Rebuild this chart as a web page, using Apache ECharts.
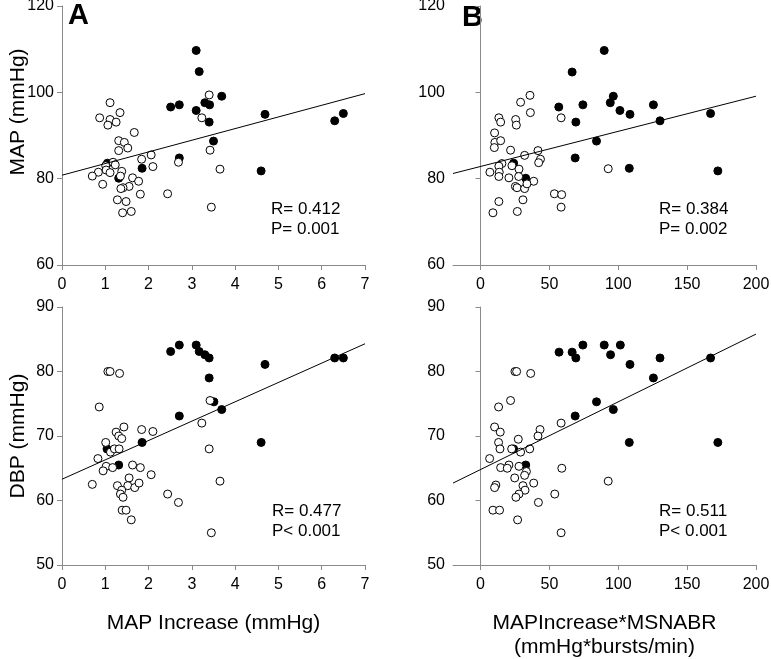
<!DOCTYPE html>
<html lang="en">
<head>
    <meta charset="UTF-8">
    <title>MAP / DBP correlations</title>
    <script src="https://cdn.jsdelivr.net/npm/echarts@6.0.0/dist/echarts.min.js"></script>
    <style>
        html, body { margin: 0; padding: 0; background: #fff; }
        #chartmain { width: 771px; height: 659px; }
    </style>
</head>
<body>
<div id="chartmain"></div>
<script>
    // ---- data ----
    // panel A : MAP vs MAP increase
    var filledA = [[3.10,109.7],[3.17,104.8],[3.69,99.1],[3.30,97.6],[3.41,97.1],[2.71,97.1],[2.51,96.6],
        [3.10,95.8],[4.69,94.9],[6.50,95.1],[6.30,93.4],[3.40,93.1],[3.50,88.7],[2.71,84.8],[1.85,82.4],
        [4.60,81.8],[1.31,80.1],[1.05,83.6]];
    var openA = [[1.11,97.6],[0.87,94.1],[1.34,95.3],[1.11,93.7],[1.25,93.1],[1.06,92.4],[1.67,90.7],
        [1.31,88.8],[1.44,88.4],[1.52,87.1],[1.31,86.5],[2.06,85.5],[1.84,84.5],[1.18,83.8],[1.01,83.0],
        [1.23,83.2],[2.10,82.8],[1.02,82.0],[1.11,81.4],[0.84,81.5],[1.38,81.7],[0.70,80.6],[1.35,80.6],
        [1.63,80.2],[1.77,79.4],[0.94,78.7],[1.55,78.2],[1.41,77.9],[1.36,77.7],[1.81,76.4],[2.44,76.5],
        [1.28,75.1],[1.48,74.7],[1.40,72.1],[1.60,72.4],[2.69,83.8],[3.42,86.6],[3.65,82.2],[3.23,94.1],
        [3.40,99.4],[3.45,73.4]];
    var fitA = [[0,80.8],[7,99.7]];

    // panel B : MAP vs MAPIncrease*MSNABR
    var filledB = [[89.8,109.7],[66.5,104.7],[96.4,99.1],[94.2,97.6],[74.3,97.1],[56.8,96.6],[125.5,97.1],
        [101.2,95.8],[108.5,94.9],[167.0,95.1],[69.2,93.1],[130.3,93.4],[84.2,88.7],[68.7,84.8],[108.0,82.4],
        [172.3,81.8],[32.8,80.1],[24.0,83.6]];
    var openB = [[29.1,97.7],[35.9,99.3],[36.2,95.3],[13.3,94.1],[14.6,93.1],[25.5,93.7],[26.0,92.4],
        [10.2,90.6],[10.4,88.4],[14.6,88.8],[10.0,87.2],[21.8,86.6],[32.0,85.4],[41.7,86.5],[43.5,84.5],
        [42.2,83.7],[15.5,83.5],[13.3,82.9],[22.8,83.0],[27.9,82.2],[6.8,81.5],[13.6,81.5],[27.7,80.5],
        [20.6,80.2],[13.3,80.5],[38.6,79.4],[25.3,78.2],[26.5,77.9],[32.0,77.7],[33.7,78.8],[30.8,75.1],
        [13.3,74.7],[9.0,72.1],[26.7,72.4],[53.6,76.5],[58.9,76.3],[58.5,73.4],[58.5,94.1],[92.7,82.3]];
    var fitB = [[-20,81.2],[200,99.1]];

    // panel C : DBP vs MAP increase
    var filledC = [[2.71,84.1],[3.10,84.1],[2.51,83.1],[3.17,83.1],[3.30,82.6],[3.40,82.1],[4.69,81.1],
        [6.30,82.1],[6.50,82.1],[3.40,79.0],[3.51,75.3],[3.69,74.1],[2.71,73.1],[1.85,69.0],[4.60,69.0],
        [1.04,68.0],[1.31,65.5]];
    var openC = [[1.06,80.0],[1.11,80.0],[1.33,79.7],[0.86,74.5],[1.43,71.4],[1.25,70.6],[1.31,70.0],
        [1.38,69.6],[1.84,71.0],[2.10,70.7],[1.01,69.0],[1.12,67.5],[1.21,68.0],[1.32,68.0],[0.83,66.5],
        [1.02,65.3],[1.17,65.1],[0.95,64.6],[1.63,65.5],[1.81,65.1],[2.06,64.0],[1.55,63.5],[0.70,62.5],
        [1.28,62.3],[1.52,62.3],[1.68,62.0],[1.78,62.7],[1.38,61.6],[1.35,61.0],[1.41,60.5],[2.44,61.0],
        [1.39,58.5],[1.48,58.5],[1.60,57.0],[2.69,59.7],[3.42,75.5],[3.23,72.0],[3.40,68.0],[3.65,63.0],
        [3.45,55.0]];
    var fitC = [[0,63.3],[7,84.3]];

    // panel D : DBP vs MAPIncrease*MSNABR
    var filledD = [[57.0,83.0],[66.5,83.0],[74.3,84.1],[69.2,82.1],[89.8,84.1],[101.5,84.1],[94.4,82.6],
        [108.5,81.1],[130.3,82.1],[167.0,82.1],[125.5,79.0],[84.2,75.3],[96.4,74.1],[68.7,73.1],[108.0,69.0],
        [172.3,69.0],[24.0,68.0],[32.8,65.5]];
    var openD = [[25.0,80.0],[26.2,80.0],[36.4,79.7],[21.8,75.5],[13.1,74.5],[10.2,71.4],[14.3,70.6],
        [13.1,69.0],[43.2,71.0],[41.7,70.0],[27.4,69.5],[14.1,68.0],[22.6,68.0],[35.7,68.0],[29.1,67.5],
        [6.6,66.5],[14.6,65.1],[20.6,65.5],[19.4,65.0],[27.9,65.3],[33.3,64.5],[32.0,63.9],[24.8,63.5],
        [11.1,62.4],[10.2,62.0],[30.8,62.3],[38.6,62.7],[32.3,61.6],[27.9,61.0],[25.7,60.5],[53.9,61.0],
        [42.0,59.7],[9.0,58.5],[13.8,58.5],[26.9,57.0],[58.5,72.0],[59.0,65.0],[92.7,63.0],[58.5,55.0]];
    var fitD = [[-20,62.7],[200,85.8]];

    var xTicksProduct = [0, 50, 100, 150, 200];
    var statsText = ['R= 0.412\nP= 0.001', 'R= 0.384\nP= 0.002', 'R= 0.477\nP< 0.001', 'R= 0.511\nP< 0.001'];

    var FONT = "'Liberation Sans', Arial, sans-serif";
    var AXIS_GRAY = '#8a8a8a';

    function xAxisFor(grid, min, max, interval, custom, name) {
        var ax = {
            type: 'value', gridIndex: grid, min: min, max: max,
            axisLine: {show: true, lineStyle: {color: AXIS_GRAY, width: 1}},
            axisTick: {show: true, inside: false, length: 5, lineStyle: {color: AXIS_GRAY}},
            axisLabel: {color: '#000', fontSize: 16, fontFamily: FONT, margin: 12},
            splitLine: {show: false},
            name: name || '', nameLocation: 'middle', nameGap: 46,
            nameTextStyle: {color: '#000', fontSize: 21, fontFamily: FONT, lineHeight: 24}
        };
        if (custom) {
            ax.axisTick.customValues = custom;
            ax.axisLabel.customValues = custom;
        } else {
            ax.interval = interval;
        }
        return ax;
    }

    function yAxisFor(grid, min, max, interval, name) {
        return {
            type: 'value', gridIndex: grid, min: min, max: max, interval: interval,
            axisLine: {show: true, lineStyle: {color: AXIS_GRAY, width: 1}},
            axisTick: {show: true, inside: false, length: 5, lineStyle: {color: AXIS_GRAY}},
            axisLabel: {color: '#000', fontSize: 16, fontFamily: FONT, margin: 8, showMaxLabel: true, showMinLabel: true},
            splitLine: {show: false},
            name: name || '', nameLocation: 'middle', nameGap: 33,
            nameTextStyle: {color: '#000', fontSize: 21, fontFamily: FONT}
        };
    }

    function scatter(idx, data, filled) {
        return {
            type: 'scatter', xAxisIndex: idx, yAxisIndex: idx, data: data,
            symbol: 'circle', symbolSize: 8, z: filled ? 2 : 3,
            itemStyle: {color: filled ? '#000' : '#fff', borderColor: '#000', borderWidth: 1, opacity: 1},
            emphasis: {disabled: true}, silent: true
        };
    }

    function fitLine(idx, data) {
        return {
            type: 'line', xAxisIndex: idx, yAxisIndex: idx, data: data,
            symbol: 'none', z: 4, silent: true, animation: false,
            lineStyle: {color: '#000', width: 1}
        };
    }

    var grids = [
        {left: 62, top: 6, width: 303, height: 259},
        {left: 453, top: 6, width: 303, height: 259},
        {left: 62, top: 307, width: 303, height: 258},
        {left: 453, top: 307, width: 303, height: 258}
    ];
    grids.forEach(function (g) { g.containLabel = false; g.outerBoundsMode = 'none'; g.show = false; });

    var statPos = [[271, 199], [659, 199], [272, 501], [659, 501]];
    var letters = [['A', 68, 1], ['B', 462, 3]];

    var graphics = [];
    statsText.forEach(function (t, i) {
        graphics.push({
            type: 'text', left: statPos[i][0], top: statPos[i][1], silent: true,
            style: {text: t, fill: '#000', font: '17px ' + FONT, lineHeight: 20}
        });
    });
    letters.forEach(function (l) {
        graphics.push({
            type: 'text', left: l[1], top: l[2], silent: true,
            style: {text: l[0], fill: '#000', font: 'bold 29px ' + FONT}
        });
    });
    // y title of the top row sits higher than the axis middle in the original
    graphics.push({
        type: 'text', x: 18, y: 112, rotation: Math.PI / 2, silent: true,
        style: {text: 'MAP (mmHg)', fill: '#000', font: '21px ' + FONT, align: 'center', verticalAlign: 'middle'}
    });

    var option = {
        animation: false,
        backgroundColor: '#fff',
        textStyle: {fontFamily: FONT},
        grid: grids,
        xAxis: [
            xAxisFor(0, 0, 7, 1, null, ''),
            xAxisFor(1, -20, 200, null, xTicksProduct, ''),
            xAxisFor(2, 0, 7, 1, null, 'MAP Increase (mmHg)'),
            xAxisFor(3, -20, 200, null, xTicksProduct, 'MAPIncrease*MSNABR\n(mmHg*bursts/min)')
        ],
        yAxis: [
            yAxisFor(0, 60, 120, 20, ''),
            yAxisFor(1, 60, 120, 20, ''),
            yAxisFor(2, 50, 90, 10, 'DBP (mmHg)'),
            yAxisFor(3, 50, 90, 10, '')
        ],
        series: [
            scatter(0, filledA, true), scatter(0, openA, false), fitLine(0, fitA),
            scatter(1, filledB, true), scatter(1, openB, false), fitLine(1, fitB),
            scatter(2, filledC, true), scatter(2, openC, false), fitLine(2, fitC),
            scatter(3, filledD, true), scatter(3, openD, false), fitLine(3, fitD)
        ],
        graphic: graphics
    };

    var myChart = echarts.init(document.getElementById('chartmain'), null, {renderer: 'canvas'});
    myChart.setOption(option);
</script>
</body>
</html>
